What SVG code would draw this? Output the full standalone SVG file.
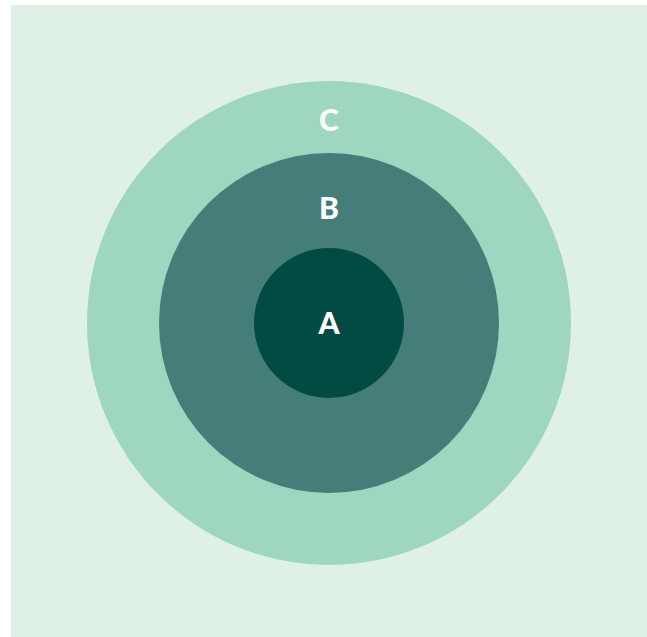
<svg xmlns="http://www.w3.org/2000/svg" width="647" height="637" viewBox="0 0 647 637">
<style>
.lbl{font-family:"Lato","Open Sans","Liberation Sans",sans-serif;font-weight:900;font-size:30px;fill:#ffffff;text-anchor:middle}
</style>
<rect x="0" y="0" width="647" height="637" fill="#ffffff"/>
<rect x="11" y="5" width="636" height="632" fill="#dff0e7"/>
<g id="C">
<circle cx="329" cy="323" r="242" fill="#9fd6c0"/>
<text class="lbl" x="329" y="131">C</text>
</g>
<g id="B">
<circle cx="329" cy="323" r="170" fill="#457e78"/>
<text class="lbl" x="329" y="219">B</text>
</g>
<g id="A">
<circle cx="329" cy="323" r="75" fill="#024b42"/>
<text class="lbl" x="329" y="334">A</text>
</g>
<g id="connectors"></g>
</svg>
